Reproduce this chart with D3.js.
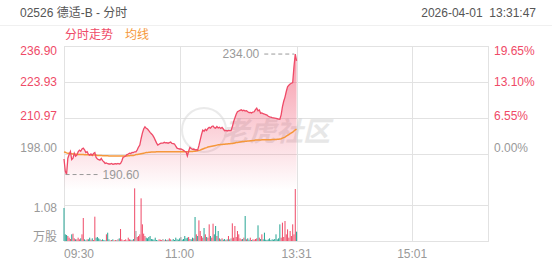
<!DOCTYPE html>
<html>
<head>
<meta charset="utf-8">
<script src="https://cdn.jsdelivr.net/npm/d3@7"></script>
<style>
  body { margin: 0; background: #fff; }
  svg text { font-family: "Liberation Sans", Arial, "Noto Sans CJK SC", sans-serif; }
</style>
</head>
<body>
<div id="chart"></div>
<script>
let width = 552, height = 265;

// data, one value per minute from 09:30
let prevClose = 198.00;
let prices = [
  196.2,191.8,190.6,196.5,197.8,198.9,196.0,196.5,198.3,197.2,
  197.6,198.8,199.4,199.0,199.8,200.1,199.5,198.5,198.8,197.9,
  197.6,198.0,197.5,198.2,198.5,196.8,196.2,196.0,195.8,196.4,
  195.6,195.2,194.6,194.8,194.5,194.4,194.4,194.6,194.3,194.4,
  194.5,194.4,194.6,194.4,194.6,195.5,196.8,197.0,197.3,197.8,
  198.0,198.3,198.2,198.6,198.5,198.8,198.8,199.5,200.5,201.2,
  203.5,205.5,207.0,207.8,207.3,207.0,206.4,205.8,205.3,204.8,
  204.0,203.0,202.0,201.2,201.5,201.8,201.9,201.9,202.2,202.0,
  202.1,201.9,202.1,202.3,201.8,201.7,201.6,200.8,200.1,199.9,
  199.8,199.8,199.6,199.3,199.0,198.8,197.3,199.0,200.4,200.0,
  199.7,199.8,199.5,199.6,199.4,201.0,203.0,205.0,206.6,206.2,
  206.9,206.5,207.2,207.6,207.3,207.9,208.1,207.5,207.3,207.9,
  207.4,207.6,207.2,207.6,207.0,206.4,206.5,206.3,206.5,206.4,
  206.4,207.8,209.6,211.0,212.3,213.2,213.5,213.7,213.9,213.6,
  213.8,213.5,213.6,213.2,212.9,213.0,212.8,213.1,213.2,214.0,
  214.5,213.6,213.9,212.7,212.8,212.5,212.4,212.2,212.0,211.6,
  211.4,211.3,211.1,211.0,210.9,210.8,210.7,210.6,210.5,212.1,
  215.0,217.0,218.5,220.5,222.2,222.8,223.2,223.5,223.7,229.5,
  234.0,231.5
];
let avgPrices = [
  198.7,198.6,198.4,198.3,198.3,198.2,198.1,198.0,198.0,197.9,
  197.9,197.8,197.8,197.8,197.8,197.8,197.7,197.7,197.7,197.7,
  197.6,197.6,197.6,197.6,197.6,197.6,197.5,197.5,197.5,197.5,
  197.4,197.4,197.4,197.4,197.4,197.3,197.3,197.3,197.3,197.3,
  197.3,197.3,197.3,197.3,197.3,197.3,197.3,197.3,197.3,197.3,
  197.4,197.4,197.5,197.5,197.5,197.6,197.8,197.8,197.9,198.0,
  198.1,198.2,198.3,198.4,198.5,198.5,198.6,198.6,198.7,198.7,
  198.7,198.7,198.8,198.8,198.8,198.8,198.8,198.8,198.8,198.8,
  198.8,198.8,198.8,198.8,198.8,198.8,198.8,198.8,198.8,198.8,
  198.8,198.8,198.8,198.8,198.8,198.8,198.8,198.8,198.9,198.9,
  198.9,199.0,199.0,199.1,199.2,199.3,199.4,199.6,199.8,200.0,
  200.2,200.3,200.5,200.6,200.7,200.8,200.9,201.0,201.1,201.2,
  201.3,201.3,201.4,201.4,201.5,201.5,201.6,201.6,201.7,201.7,
  201.8,201.8,201.9,202.0,202.1,202.1,202.2,202.3,202.4,202.5,
  202.5,202.6,202.6,202.7,202.7,202.8,202.8,202.9,202.9,203.0,
  203.0,203.0,203.0,203.0,203.1,203.1,203.1,203.1,203.1,203.1,
  203.1,203.1,203.2,203.2,203.2,203.2,203.3,203.3,203.4,203.5,
  203.7,203.9,204.1,204.4,204.7,205.0,205.3,205.6,205.9,206.3,
  206.7,207.0
];
// volume in 万股
let volumes = [
  0.99,0.20,0.18,0.15,0.10,0.06,0.20,0.22,0.08,0.05,
  0.05,0.10,0.05,0.08,0.20,0.69,0.05,0.02,0.05,0.05,
  0.10,0.04,0.08,0.03,0.73,0.10,0.12,0.08,0.05,0.03,
  0.05,0.03,0.02,0.20,0.25,0.05,0.02,0.03,0.05,0.02,
  0.03,0.02,0.05,0.08,0.36,0.05,0.02,0.03,0.05,0.02,
  0.10,0.05,0.04,0.03,0.06,1.58,0.30,0.12,0.15,0.20,
  1.28,0.50,0.22,0.15,0.10,0.08,0.12,0.15,0.06,0.05,
  0.04,0.10,0.03,0.02,0.05,0.04,0.03,0.06,0.02,0.05,
  0.03,0.04,0.08,0.05,0.02,0.06,0.03,0.10,0.05,0.04,
  0.08,0.12,0.04,0.06,0.15,0.08,0.10,0.12,0.06,0.05,
  0.10,0.08,0.72,0.20,0.15,0.62,0.30,0.15,0.10,0.39,
  0.20,0.12,0.10,0.50,0.15,0.10,0.52,0.20,0.45,0.15,
  0.30,0.08,0.05,0.08,0.04,0.06,0.03,0.05,0.15,0.05,
  0.08,0.53,0.10,0.45,0.12,0.30,0.20,0.08,0.05,0.06,
  0.10,0.75,0.05,0.08,0.04,0.10,0.03,0.05,0.04,0.06,
  0.08,0.47,0.10,0.06,0.20,0.05,0.25,0.04,0.03,0.05,
  0.08,0.03,0.05,0.04,0.06,0.20,0.05,0.08,0.50,0.10,
  0.55,0.12,0.60,0.20,0.35,0.10,0.30,0.15,0.50,0.20,
  1.56,0.28
];
let priceTicks = [236.90, 223.93, 210.97, 198.00];
let pctTicks = ["19.65%", "13.10%", "6.55%", "0.00%"];
let volTicks = [1.08];
let timeLabels = ["09:30", "11:00", "13:31", "15:01"];
let timeIndex = [0, 90, 181, 271];
let totalMinutes = 330;
let highMark = {i: 180, v: 234.00};
let lowMark = {i: 2, v: 190.60};

let red = "#ef4a67", green = "#27a595", gray = "#999", orange = "#f5973a", grid = "#e2e2e2";

let svg = d3.select("#chart").append("svg")
    .attr("width", width)
    .attr("height", height);

let plot = {left: 64, right: 488, top: 46, mid: 190, volTop: 205, bottom: 241};

let x = d3.scaleLinear().domain([0, totalMinutes]).range([plot.left, plot.right]);
let y = d3.scaleLinear().domain([prevClose, priceTicks[0]]).range([154, plot.top]);
let yv = d3.scaleLinear().domain([0, volTicks[0]]).range([plot.bottom, plot.volTop]);

// header
svg.append("text").attr("x", 20).attr("y", 17).attr("font-size", 12).attr("fill", "#555")
    .text("02526 德适-B - 分时");
svg.append("text").attr("x", 536).attr("y", 17).attr("font-size", 12).attr("fill", "#555")
    .attr("text-anchor", "end").attr("xml:space", "preserve").text("2026-04-01  13:31:47");
svg.append("line").attr("x1", 0).attr("x2", width).attr("y1", 25.5).attr("y2", 25.5)
    .attr("stroke", "#f0f0f0");
svg.append("text").attr("x", 65).attr("y", 39).attr("font-size", 12).attr("fill", red).text("分时走势");
svg.append("text").attr("x", 125).attr("y", 39).attr("font-size", 12).attr("fill", orange).text("均线");

// grid
let g = svg.append("g").attr("stroke", grid).attr("shape-rendering", "crispEdges");
g.append("rect").attr("x", plot.left).attr("y", plot.top)
    .attr("width", plot.right - plot.left).attr("height", plot.bottom - plot.top)
    .attr("fill", "none");
g.selectAll(".hl").data(priceTicks.slice(1)).join("line")
    .attr("x1", plot.left).attr("x2", plot.right)
    .attr("y1", d => Math.round(y(d)) + 0.5).attr("y2", d => Math.round(y(d)) + 0.5);
g.selectAll(".vl").data(volTicks).join("line")
    .attr("x1", plot.left).attr("x2", plot.right)
    .attr("y1", d => Math.round(yv(d)) + 0.5).attr("y2", d => Math.round(yv(d)) + 0.5);
g.selectAll(".tl").data(timeIndex.slice(1)).join("line")
    .attr("x1", d => Math.round(x(d)) + 0.5).attr("x2", d => Math.round(x(d)) + 0.5)
    .attr("y1", plot.top).attr("y2", plot.bottom);

// watermark
let wm = svg.append("g").attr("opacity", 0.5);
wm.append("circle").attr("cx", 204).attr("cy", 130).attr("r", 22)
    .attr("fill", "none").attr("stroke", "#d6d6d6").attr("stroke-width", 2);
wm.append("text").attr("x", 222).attr("y", 141).attr("font-size", 27).attr("font-weight", "bold")
    .attr("fill", "#d0d0d0").attr("font-style", "italic").text("老虎社区");

// price area + lines
let defs = svg.append("defs");
let grad = defs.append("linearGradient").attr("id", "fade")
    .attr("gradientUnits", "userSpaceOnUse")
    .attr("x1", 0).attr("x2", 0).attr("y1", plot.top).attr("y2", plot.mid);
grad.append("stop").attr("offset", 0).attr("stop-color", red).attr("stop-opacity", 0.6);
grad.append("stop").attr("offset", 1).attr("stop-color", red).attr("stop-opacity", 0);

svg.append("path").datum(prices)
    .attr("fill", "url(#fade)")
    .attr("d", d3.area().x((d, i) => x(i)).y0(plot.mid).y1(d => y(d)));

svg.append("path").datum(avgPrices)
    .attr("fill", "none").attr("stroke", orange).attr("stroke-width", 1.5)
    .attr("d", d3.line().x((d, i) => x(i)).y(d => y(d)));

svg.append("path").datum(prices)
    .attr("fill", "none").attr("stroke", red).attr("stroke-width", 1.3)
    .attr("d", d3.line().x((d, i) => x(i)).y(d => y(d)));

// volume bars
svg.append("g").selectAll("rect").data(volumes).join("rect")
    .attr("x", (d, i) => x(i) - 0.5)
    .attr("width", 1)
    .attr("y", d => yv(d))
    .attr("height", d => plot.bottom - yv(d))
    .attr("fill", (d, i) => {
        let prev = i === 0 ? prevClose : prices[i - 1];
        return prices[i] > prev ? red : prices[i] < prev ? green : gray;
    });

// high / low markers
let hx = x(highMark.i), hy = y(highMark.v);
svg.append("line").attr("x1", hx - 31).attr("x2", hx - 1).attr("y1", hy).attr("y2", hy)
    .attr("stroke", gray).attr("stroke-dasharray", "4,3");
svg.append("text").attr("x", hx - 36).attr("y", hy + 4).attr("font-size", 12).attr("fill", gray)
    .attr("text-anchor", "end").text(highMark.v.toFixed(2));
let lx = x(lowMark.i), ly = y(lowMark.v);
svg.append("line").attr("x1", lx - 1).attr("x2", lx + 31).attr("y1", ly).attr("y2", ly)
    .attr("stroke", gray).attr("stroke-dasharray", "4,3");
svg.append("text").attr("x", lx + 36).attr("y", ly + 4).attr("font-size", 12).attr("fill", gray)
    .text(lowMark.v.toFixed(2));

// axis labels
let dy = [9, 4, 2, -2];
svg.selectAll(".pl").data(priceTicks).join("text")
    .attr("x", 57).attr("y", (d, i) => y(d) + dy[i])
    .attr("text-anchor", "end").attr("font-size", 12)
    .attr("fill", d => d > prevClose ? red : gray)
    .text(d => d.toFixed(2));
svg.selectAll(".pc").data(pctTicks).join("text")
    .attr("x", 494).attr("y", (d, i) => y(priceTicks[i]) + dy[i])
    .attr("font-size", 12)
    .attr("fill", (d, i) => priceTicks[i] > prevClose ? red : gray)
    .text(d => d);
svg.selectAll(".vt").data(volTicks).join("text")
    .attr("x", 57).attr("y", d => yv(d) + 7)
    .attr("text-anchor", "end").attr("font-size", 12).attr("fill", gray)
    .text(d => d.toFixed(2));
svg.append("text").attr("x", 57).attr("y", 241).attr("text-anchor", "end")
    .attr("font-size", 12).attr("fill", gray).text("万股");
svg.selectAll(".tx").data(timeLabels).join("text")
    .attr("x", (d, i) => x(timeIndex[i]))
    .attr("y", 258)
    .attr("text-anchor", (d, i) => i === 0 ? "start" : "middle")
    .attr("font-size", 12).attr("fill", gray)
    .text(d => d);
</script>
</body>
</html>
